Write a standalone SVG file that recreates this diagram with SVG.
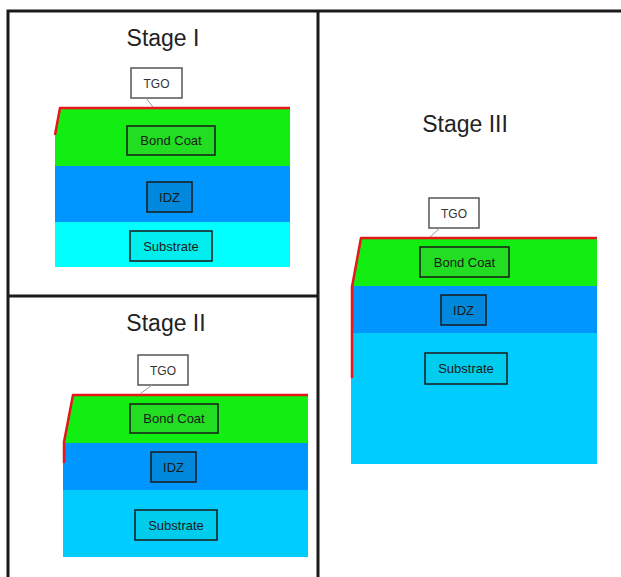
<svg xmlns="http://www.w3.org/2000/svg" width="621" height="577" viewBox="0 0 621 577">
<style>
.frame{stroke:#1a1a1a;stroke-width:3;fill:none}
.title{font-family:"Liberation Sans",Arial,sans-serif;font-size:23px;fill:#222;text-anchor:middle}
.lbl{font-family:"Liberation Sans",Arial,sans-serif;font-size:13px;fill:#1a1a1a;text-anchor:middle}
.tgo{fill:#fff;stroke:#555;stroke-width:1.5}
.tgot{font-family:"Liberation Sans",Arial,sans-serif;font-size:12px;fill:#333;text-anchor:middle}
.box{stroke:#1a1a1a;stroke-width:1.5}
.lead{stroke:#999;stroke-width:1;fill:none}
.red{stroke:#e8151b;stroke-width:2.5;fill:none;stroke-linejoin:round}
.green{fill:#12ee12}
.blue{fill:#0096ff}
.cyan1{fill:#00ffff}
.cyan2{fill:#00ccff}
</style>
<rect width="621" height="577" fill="#fff"/>
<g id="frames">
<path class="frame" d="M8,577 V11 H621 M318,11 V577 M8,296 H318"/>
</g>
<g id="stage1">
<text class="title" x="163" y="46">Stage I</text>
<path class="green" d="M60,107 H290 V166 H55 V135 Z"/>
<rect class="blue" x="55" y="166" width="235" height="56"/>
<rect class="cyan1" x="55" y="222" width="235" height="45"/>
<path class="red" d="M55,135 L60,108 H290"/>
<rect class="box" x="127" y="126" width="88" height="29" fill="#22dd22"/>
<text class="lbl" x="171" y="145">Bond Coat</text>
<rect class="box" x="147" y="182" width="45" height="30" fill="#0088dd"/>
<text class="lbl" x="169.5" y="202">IDZ</text>
<rect class="box" x="130" y="231" width="82" height="30" fill="#00eeee"/>
<text class="lbl" x="171" y="251">Substrate</text>
<rect class="tgo" x="131" y="68" width="51" height="30"/>
<text class="tgot" x="156.5" y="88">TGO</text>
</g>
<g id="stage2">
<text class="title" x="166" y="331">Stage II</text>
<path class="green" d="M73,394 H308 V443 H64 Z"/>
<rect class="blue" x="63" y="443" width="245" height="47"/>
<rect class="cyan2" x="63" y="490" width="245" height="67"/>
<path class="red" d="M64,463 V442 L73,395 H308"/>
<rect class="box" x="130" y="404" width="88" height="29" fill="#22dd22"/>
<text class="lbl" x="174" y="423">Bond Coat</text>
<rect class="box" x="151" y="452" width="45" height="30" fill="#0088dd"/>
<text class="lbl" x="173.5" y="472">IDZ</text>
<rect class="box" x="135" y="510" width="82" height="30" fill="#00ccee"/>
<text class="lbl" x="176" y="530">Substrate</text>
<rect class="tgo" x="138" y="355" width="50" height="30"/>
<text class="tgot" x="163" y="375">TGO</text>
</g>
<g id="stage3">
<text class="title" x="465" y="132">Stage III</text>
<path class="green" d="M361,237 H597 V286 H352 Z"/>
<rect class="blue" x="351" y="286" width="246" height="47"/>
<rect class="cyan2" x="351" y="333" width="246" height="131"/>
<path class="red" d="M352,378 V287 L361,238 H597"/>
<rect class="box" x="420" y="247" width="89" height="30" fill="#22dd22"/>
<text class="lbl" x="464.5" y="267">Bond Coat</text>
<rect class="box" x="441" y="295" width="45" height="30" fill="#0088dd"/>
<text class="lbl" x="463.5" y="315">IDZ</text>
<rect class="box" x="425" y="353" width="82" height="31" fill="#00ccee"/>
<text class="lbl" x="466" y="373">Substrate</text>
<rect class="tgo" x="429" y="198" width="50" height="30"/>
<text class="tgot" x="454" y="218">TGO</text>
</g>
<g id="connectors">
<path class="lead" d="M146,98 L153,107"/>
<path class="lead" d="M152,385 L140,394"/>
<path class="lead" d="M440,228 L430,237"/>
</g>
</svg>
